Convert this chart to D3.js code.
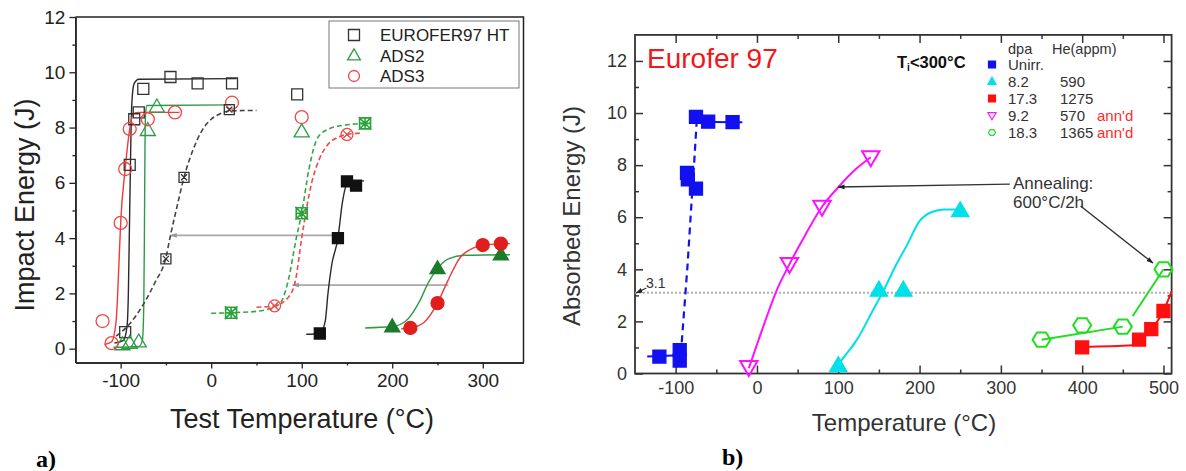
<!DOCTYPE html>
<html>
<head>
<meta charset="utf-8">
<script src="https://cdn.jsdelivr.net/npm/d3@7"></script>
<style>
	body { margin: 0; background: #fff; }
	svg { display: block; }
	text { font-family: Arial, "Liberation Sans", sans-serif; }
</style>
</head>
<body>
<svg id="chart" width="1186" height="471"></svg>
<script>
"use strict";

/* ---- panel a) : [temperature °C, impact energy J] ---- */
const aTicksX = [-100, 0, 100, 200, 300];
const aMinorX = [-50, 50, 150, 250];
const aTicksY = [0, 2, 4, 6, 8, 10, 12];
const aMinorY = [1, 3, 5, 7, 9, 11];

const euroHt = [[-95, 0.6], [-90, 6.65], [-85, 8.3], [-80, 8.55], [-75, 9.4], [-45, 9.83], [-15, 9.6], [23, 9.6], [95, 9.2]];
const ads2 = [[-98, 0.15], [-90, 0.2], [-80, 0.25], [-70, 7.9], [-60, 8.75], [100, 7.85]];
const ads3 = [[-120, 1.0], [-110, 0.2], [-100, 4.55], [-95, 6.5], [-90, 7.95], [-70, 8.3], [-40, 8.55], [23, 8.9], [100, 8.38]];
const euroIrrLow = [[-50, 3.25], [-30, 6.2], [20, 8.65]];
const ads2IrrLow = [[22, 1.3], [100, 4.9], [170, 8.15]];
const ads3IrrLow = [[70, 1.55], [150, 7.75]];
const euroIrrHigh = [[120, 0.55], [140, 4.0], [150, 6.05], [160, 5.9]];
const ads2IrrHigh = [[200, 0.8], [250, 2.9], [320, 3.4]];
const ads3IrrHigh = [[220, 0.75], [250, 1.65], [300, 3.75], [320, 3.8]];

// fitted curves
const fitEuroHt = [[-107, 0.2], [-97, 0.3], [-93, 0.8], [-91.5, 2], [-90.5, 4], [-89.5, 6], [-88.5, 8], [-87, 9.2], [-85, 9.6], [-80, 9.75], [28, 9.77]];
const fitAds2 = [[-108, 0.05], [-80, 0.08], [-76, 0.3], [-74.5, 1.5], [-73.8, 4], [-73.2, 7], [-72.5, 8.5], [-71, 8.8], [22, 8.82]];
const fitAds3 = [[-118, 0.15], [-110, 0.25], [-105, 1.0], [-102, 3], [-100, 4.55], [-95, 6.5], [-90, 7.95], [-86, 8.5], [-80, 8.55], [-35, 8.55]];
const fitEuroIrrLow = [[-105, 0.45], [-90, 0.9], [-75, 1.6], [-62, 2.4], [-50, 3.3], [-45, 4.1], [-38, 5.1], [-30, 6.2], [-20, 7.2], [-10, 7.9], [0, 8.3], [10, 8.5], [20, 8.6], [50, 8.62]];
const fitAds2IrrLow = [[0, 1.28], [22, 1.3], [50, 1.35], [75, 1.6], [85, 2.45], [94, 4], [100, 4.9], [108, 6.5], [118, 7.65], [130, 7.95], [140, 8.05], [170, 8.15]];
const fitAds3IrrLow = [[50, 1.5], [70, 1.55], [85, 1.85], [93, 2.45], [100, 4], [106, 5.2], [111, 6], [120, 6.9], [128, 7.35], [140, 7.65], [150, 7.75], [166, 7.8]];
const fitEuroIrrHigh = [[105, 0.52], [120, 0.55], [126, 1], [129, 2], [133, 3], [140, 4], [145, 5.3], [150, 5.95], [160, 6.05], [169, 6.07]];
const fitAds2IrrHigh = [[170, 0.75], [200, 0.8], [215, 1.0], [230, 1.7], [240, 2.4], [250, 2.9], [262, 3.25], [280, 3.38], [330, 3.4]];
const fitAds3IrrHigh = [[210, 0.72], [220, 0.75], [235, 0.95], [250, 1.65], [262, 2.5], [275, 3.3], [290, 3.65], [300, 3.75], [330, 3.8]];
const aArrows = [[[140, 4.1], [-45, 4.1]], [[262, 2.3], [90, 2.3]]];
const aLegend = ["EUROFER97 HT", "ADS2", "ADS3"];

/* ---- panel b) : [temperature °C, absorbed energy J] ---- */
const bTicksX = [-100, 0, 100, 200, 300, 400, 500];
const bMinorX = [-50, 50, 150, 250, 350, 450];
const bTicksY = [0, 2, 4, 6, 8, 10, 12];
const bMinorY = [1, 3, 5, 7, 9, 11];

const unirr = [[-120, 0.65], [-95, 0.5], [-95, 0.9], [-86, 7.7], [-85, 7.45], [-75, 7.1], [-75, 9.85], [-60, 9.67], [-30, 9.65]];
const irr82 = [[100, 0.3], [150, 3.2], [180, 3.2], [250, 6.25]];
const irr173 = [[400, 1.0], [470, 1.3], [485, 1.7], [500, 2.4]];
const ann92 = [[-10, 0.25], [40, 4.2], [80, 6.4], [140, 8.3]];
const ann183 = [[350, 1.3], [400, 1.85], [450, 1.8], [500, 4.0]];

const fitUnirrLow = [[-135, 0.65], [-95, 0.7]];
const fitUnirrMid = [[-92.5, 1.2], [-85.5, 4.1], [-80, 6.8], [-77, 8.2], [-74, 9.75]];
const fitUnirrHigh = [[-75, 9.85], [-60, 9.67], [-18, 9.65]];
const fitIrr82 = [[100, 0.35], [110, 0.75], [123, 1.3], [143, 2.45], [156, 3.2], [170, 4.1], [184, 4.9], [200, 5.85], [215, 6.2], [230, 6.3], [248, 6.3]];
const fitIrr173 = [[400, 1.02], [462, 1.08], [470, 1.3], [485, 1.7], [500, 2.4], [510, 3.15]];
const fitAnn92 = [[-10, 0.2], [10, 2.0], [23, 3.1], [40, 4.2], [60, 5.35], [80, 6.4], [100, 7.15], [120, 7.8], [140, 8.3]];
const fitAnn183a = [[350, 1.3], [450, 1.8]];
const fitAnn183b = [[462, 2.2], [500, 4.0]];
const threshold = 3.1;
const bArrows = [[[311, 7.27], [100, 7.16]], [[398, 6.43], [487, 4.24]], [[-136, 3.28], [-148.5, 3.09]]];
const bLegend = [
	["Unirr.", "", ""],
	["8.2", "590", ""],
	["17.3", "1275", ""],
	["9.2", "570", "ann'd"],
	["18.3", "1365", "ann'd"]
];

const svg = d3.select("#chart");

// arrow heads
const defs = svg.append("defs");
const arrowHead = (id, color) => {
	defs.append("marker")
		.attr("id", id)
		.attr("viewBox", "0 0 10 10")
		.attr("refX", 9).attr("refY", 5)
		.attr("markerWidth", 7).attr("markerHeight", 7)
		.attr("markerUnits", "userSpaceOnUse")
		.attr("orient", "auto")
		.append("path")
		.attr("d", "M0,1.5L10,5L0,8.5Z")
		.attr("fill", color);
};
arrowHead("headGray", "#999");
arrowHead("headBlack", "#222");

// marker shapes
const shape = (type, s) => {
	const h = s / 2;
	const sq = `M${-h},${-h}h${s}v${s}h${-s}Z`;
	const circ = `M${h},0A${h},${h} 0 1,1 ${-h},0A${h},${h} 0 1,1 ${h},0Z`;
	const k = h * 0.6;
	const x = `M${-k},${-k}L${k},${k}M${k},${-k}L${-k},${k}`;
	switch (type) {
		case "square": return sq;
		case "circle": return circ;
		case "triangle": return `M0,${-s * 0.6}L${s * 0.58},${s * 0.4}L${-s * 0.58},${s * 0.4}Z`;
		case "tridown": return `M0,${s * 0.6}L${s * 0.58},${-s * 0.4}L${-s * 0.58},${-s * 0.4}Z`;
		case "hex": {
			const p = d3.range(6).map(i => [h * Math.cos(i * Math.PI / 3), h * 0.92 * Math.sin(i * Math.PI / 3)]);
			return "M" + p.map(d => d.join(",")).join("L") + "Z";
		}
		case "sqx": return sq + x;
		case "circx": return circ + x;
		case "star": {
			const r = h * 1.15;
			return sq + `M${-r},${-r}L${r},${r}M${r},${-r}L${-r},${r}M0,${-r}V${r}M${-r},0H${r}`;
		}
	}
};

const drawPoints = (g, x, y, pts, type, size, color, filled, sw) => {
	g.append("g").selectAll("path")
		.data(pts)
		.enter()
		.append("path")
		.attr("transform", d => `translate(${x(d[0])},${y(d[1])})`)
		.attr("d", shape(type, size))
		.attr("fill", filled ? color : "none")
		.attr("stroke", color)
		.attr("stroke-width", sw || 1.3);
};

const drawLine = (g, x, y, pts, color, width, dash, curve) => {
	const line = d3.line()
		.x(d => x(d[0]))
		.y(d => y(d[1]))
		.curve(curve || d3.curveMonotoneX);
	g.append("path")
		.attr("d", line(pts))
		.attr("fill", "none")
		.attr("stroke", color)
		.attr("stroke-width", width)
		.attr("stroke-dasharray", dash || null);
};

const drawArrow = (g, x, y, pts, color, head, width) => {
	g.append("line")
		.attr("x1", x(pts[0][0])).attr("y1", y(pts[0][1]))
		.attr("x2", x(pts[1][0])).attr("y2", y(pts[1][1]))
		.attr("stroke", color)
		.attr("stroke-width", width)
		.attr("marker-end", `url(#${head})`);
};

/* ================= panel a) ================= */
const xA = d3.scaleLinear().domain([-150, 345]).range([75.4, 523.5]);
const yA = d3.scaleLinear().domain([-0.5, 12]).range([362.5, 17]);
const ga = svg.append("g");

const styleAxis = (sel, size) => {
	sel.selectAll("text").style("font-size", size + "px").attr("fill", "#222");
	sel.selectAll("line").attr("stroke", "#222").attr("stroke-width", 1.3);
	sel.select(".domain").attr("stroke", "#222").attr("stroke-width", 1.5);
};

ga.append("g")
	.attr("transform", `translate(${xA.range()[0]},0)`)
	.call(d3.axisLeft(yA).tickValues(aTicksY).tickSize(6).tickSizeOuter(0).tickPadding(4).tickFormat(d => d))
	.call(s => styleAxis(s, 19));
ga.append("g")
	.attr("transform", `translate(${xA.range()[0]},0)`)
	.call(d3.axisLeft(yA).tickValues(aMinorY).tickSize(3).tickSizeOuter(0).tickFormat(""))
	.call(s => styleAxis(s, 19));
ga.append("g")
	.attr("transform", `translate(0,${yA.range()[0]})`)
	.call(d3.axisBottom(xA).tickValues(aTicksX).tickSize(6).tickSizeOuter(0).tickPadding(5).tickFormat(d => String(d)))
	.call(s => styleAxis(s, 19));
ga.append("g")
	.attr("transform", `translate(0,${yA.range()[0]})`)
	.call(d3.axisBottom(xA).tickValues(aMinorX).tickSize(3).tickSizeOuter(0).tickFormat(""))
	.call(s => styleAxis(s, 19));
// top and right frame
ga.append("path")
	.attr("d", `M${xA.range()[0]},${yA.range()[1]}H${xA.range()[1]}V${yA.range()[0]}`)
	.attr("fill", "none")
	.attr("stroke", "#222")
	.attr("stroke-width", 1.5);

ga.append("text")
	.attr("x", 302).attr("y", 428)
	.attr("text-anchor", "middle")
	.style("font-size", "27px")
	.attr("fill", "#222")
	.text("Test Temperature (°C)");
ga.append("text")
	.attr("transform", "translate(34,205) rotate(-90)")
	.attr("text-anchor", "middle")
	.style("font-size", "27px")
	.attr("fill", "#222")
	.text("Impact Energy (J)");

// gray arrows
aArrows.forEach(a => drawArrow(ga, xA, yA, a, "#a8a8a8", "headGray", 1.6));

const cBlack = "#2a2a2a", cGreen = "#2f9a45", cRed = "#ee3a3a";
drawLine(ga, xA, yA, fitEuroHt, cBlack, 1.4);
drawLine(ga, xA, yA, fitAds2, cGreen, 1.4);
drawLine(ga, xA, yA, fitAds3, cRed, 1.4);
drawLine(ga, xA, yA, fitEuroIrrLow, "#444", 1.6, "5,3");
drawLine(ga, xA, yA, fitAds2IrrLow, "#3aa34a", 1.6, "5,3");
drawLine(ga, xA, yA, fitAds3IrrLow, "#ee4a4a", 1.6, "5,3");
drawLine(ga, xA, yA, fitEuroIrrHigh, cBlack, 1.4);
drawLine(ga, xA, yA, fitAds2IrrHigh, cGreen, 1.4);
drawLine(ga, xA, yA, fitAds3IrrHigh, cRed, 1.4);

drawPoints(ga, xA, yA, euroHt, "square", 11, "#333", false);
drawPoints(ga, xA, yA, ads2, "triangle", 13, cGreen, false);
drawPoints(ga, xA, yA, ads3, "circle", 13, "#f04848", false);
drawPoints(ga, xA, yA, euroIrrLow, "sqx", 10, "#333", false);
drawPoints(ga, xA, yA, ads2IrrLow, "star", 11, "#2aa33a", false, 1.6);
drawPoints(ga, xA, yA, ads3IrrLow, "circx", 12, "#f04848", false);
drawPoints(ga, xA, yA, euroIrrHigh, "square", 11, "#111", true);
drawPoints(ga, xA, yA, ads2IrrHigh, "triangle", 13, "#1d7a2a", true);
drawPoints(ga, xA, yA, ads3IrrHigh, "circle", 13, "#e01e1e", true);

// legend
const legA = ga.append("g");
legA.append("rect")
	.attr("x", 329).attr("y", 21).attr("width", 190).attr("height", 67)
	.attr("fill", "#fff").attr("stroke", "#777").attr("stroke-width", 1);
const legTypes = [["square", "#333"], ["triangle", cGreen], ["circle", "#f04848"]];
aLegend.forEach((name, i) => {
	const cy = 35 + i * 20.5;
	legA.append("path")
		.attr("transform", `translate(354,${cy})`)
		.attr("d", shape(legTypes[i][0], 11))
		.attr("fill", "none").attr("stroke", legTypes[i][1]).attr("stroke-width", 1.3);
	legA.append("text")
		.attr("x", 380).attr("y", cy + 6)
		.style("font-size", "17px").attr("fill", "#222")
		.text(name);
});

svg.append("text")
	.attr("x", 36).attr("y", 467)
	.style("font-family", "'Liberation Serif', 'Times New Roman', serif")
	.style("font-weight", "bold").style("font-size", "24px")
	.text("a)");

/* ================= panel b) ================= */
const xB = d3.scaleLinear().domain([-150, 510]).range([635, 1171.6]);
const yB = d3.scaleLinear().domain([0, 13]).range([373.5, 34.9]);
const gb = svg.append("g");
const x0 = xB.range()[0], x1 = xB.range()[1], y0 = yB.range()[0], y1 = yB.range()[1];

const tickAxis = (axis, tr, values, size, labels) => {
	gb.append("g")
		.attr("transform", tr)
		.call(axis.tickValues(values).tickSize(-size).tickSizeOuter(0).tickPadding(8)
			.tickFormat(labels ? (d => String(d)) : ""))
		.call(s => {
			s.select(".domain").remove();
			s.selectAll("line").attr("stroke", "#333").attr("stroke-width", 1.5);
			s.selectAll("text").style("font-size", "18px").attr("fill", "#333");
		});
};
tickAxis(d3.axisBottom(xB), `translate(0,${y0})`, bTicksX, 8, true);
tickAxis(d3.axisBottom(xB), `translate(0,${y0})`, bMinorX, 4, false);
tickAxis(d3.axisTop(xB), `translate(0,${y1})`, bTicksX, 8, false);
tickAxis(d3.axisTop(xB), `translate(0,${y1})`, bMinorX, 4, false);
tickAxis(d3.axisLeft(yB), `translate(${x0},0)`, bTicksY, 8, true);
tickAxis(d3.axisLeft(yB), `translate(${x0},0)`, bMinorY, 4, false);
tickAxis(d3.axisRight(yB), `translate(${x1},0)`, bTicksY, 8, false);
tickAxis(d3.axisRight(yB), `translate(${x1},0)`, bMinorY, 4, false);
gb.append("rect")
	.attr("x", x0).attr("y", y1).attr("width", x1 - x0).attr("height", y0 - y1)
	.attr("fill", "none").attr("stroke", "#333").attr("stroke-width", 1.8);

gb.append("text")
	.attr("x", 904).attr("y", 431)
	.attr("text-anchor", "middle")
	.style("font-size", "24px").attr("fill", "#333")
	.text("Temperature (°C)");
gb.append("text")
	.attr("transform", "translate(580,216) rotate(-90)")
	.attr("text-anchor", "middle")
	.style("font-size", "24px").attr("fill", "#333")
	.text("Absorbed Energy (J)");

// 3.1 J reference line
gb.append("line")
	.attr("x1", x0).attr("x2", x1)
	.attr("y1", yB(threshold)).attr("y2", yB(threshold))
	.attr("stroke", "#b0b0b0").attr("stroke-width", 2).attr("stroke-dasharray", "2,2");
gb.append("text")
	.attr("x", 646).attr("y", 288)
	.style("font-size", "14px").attr("fill", "#333")
	.text(threshold);

const cBlue = "#1010f0", cCyan = "#00e0e8", cRedB = "#ff1010", cMag = "#ff10ff", cLime = "#22dd22";
drawLine(gb, xB, yB, fitUnirrLow, cBlue, 2);
drawLine(gb, xB, yB, fitUnirrMid, cBlue, 2.2, "7,5", d3.curveLinear);
drawLine(gb, xB, yB, fitUnirrHigh, cBlue, 2);
drawLine(gb, xB, yB, fitAnn92, cMag, 2);
drawLine(gb, xB, yB, fitIrr82, cCyan, 2);
drawLine(gb, xB, yB, fitAnn183a, cLime, 2, null, d3.curveLinear);
drawLine(gb, xB, yB, fitAnn183b, cLime, 2, null, d3.curveLinear);
drawLine(gb, xB, yB, fitIrr173, cRedB, 2);

drawPoints(gb, xB, yB, unirr, "square", 13, cBlue, true);
drawPoints(gb, xB, yB, irr82, "triangle", 15, cCyan, true);
drawPoints(gb, xB, yB, irr173, "square", 13, cRedB, true);
drawPoints(gb, xB, yB, ann92, "tridown", 15, cMag, false, 2);
drawPoints(gb, xB, yB, ann183, "hex", 18, cLime, false, 2);

bArrows.forEach((a, i) => drawArrow(gb, xB, yB, a, "#333", "headBlack", i < 2 ? 1.4 : 1.2));

gb.append("text")
	.attr("x", 1013).attr("y", 189)
	.style("font-size", "17px").attr("fill", "#333")
	.text("Annealing:");
gb.append("text")
	.attr("x", 1013).attr("y", 208)
	.style("font-size", "17px").attr("fill", "#333")
	.text("600°C/2h");

gb.append("text")
	.attr("x", 647).attr("y", 68)
	.style("font-size", "28px").attr("fill", "#f01818")
	.text("Eurofer 97");

// legend
const tl = gb.append("text")
	.attr("x", 897).attr("y", 68)
	.style("font-size", "16.5px").style("font-weight", "bold").attr("fill", "#111");
tl.append("tspan").text("T");
tl.append("tspan").attr("dy", 3).style("font-size", "10px").text("i");
tl.append("tspan").attr("dy", -3).text("<300°C");

gb.append("text").attr("x", 1008).attr("y", 54).style("font-size", "14.5px").attr("fill", "#333").text("dpa");
gb.append("text").attr("x", 1052).attr("y", 54).style("font-size", "14.5px").attr("fill", "#333").text("He(appm)");
const legB = [["square", cBlue, true], ["triangle", cCyan, true], ["square", cRedB, true], ["tridown", cMag, false], ["hex", cLime, false]];
bLegend.forEach((row, i) => {
	const cy = 64.5 + i * 17;
	gb.append("path")
		.attr("transform", `translate(992,${cy})`)
		.attr("d", shape(legB[i][0], 7))
		.attr("fill", legB[i][2] ? legB[i][1] : "none")
		.attr("stroke", legB[i][1]).attr("stroke-width", 1.2);
	[[1008, row[0], "#333"], [1060, row[1], "#333"], [1097, row[2], "#ff2a2a"]].forEach(c => {
		gb.append("text").attr("x", c[0]).attr("y", cy + 5.5)
			.style("font-size", "15px").attr("fill", c[2]).text(c[1]);
	});
});

svg.append("text")
	.attr("x", 722).attr("y", 465)
	.style("font-family", "'Liberation Serif', 'Times New Roman', serif")
	.style("font-weight", "bold").style("font-size", "24px")
	.text("b)");
</script>
</body>
</html>
